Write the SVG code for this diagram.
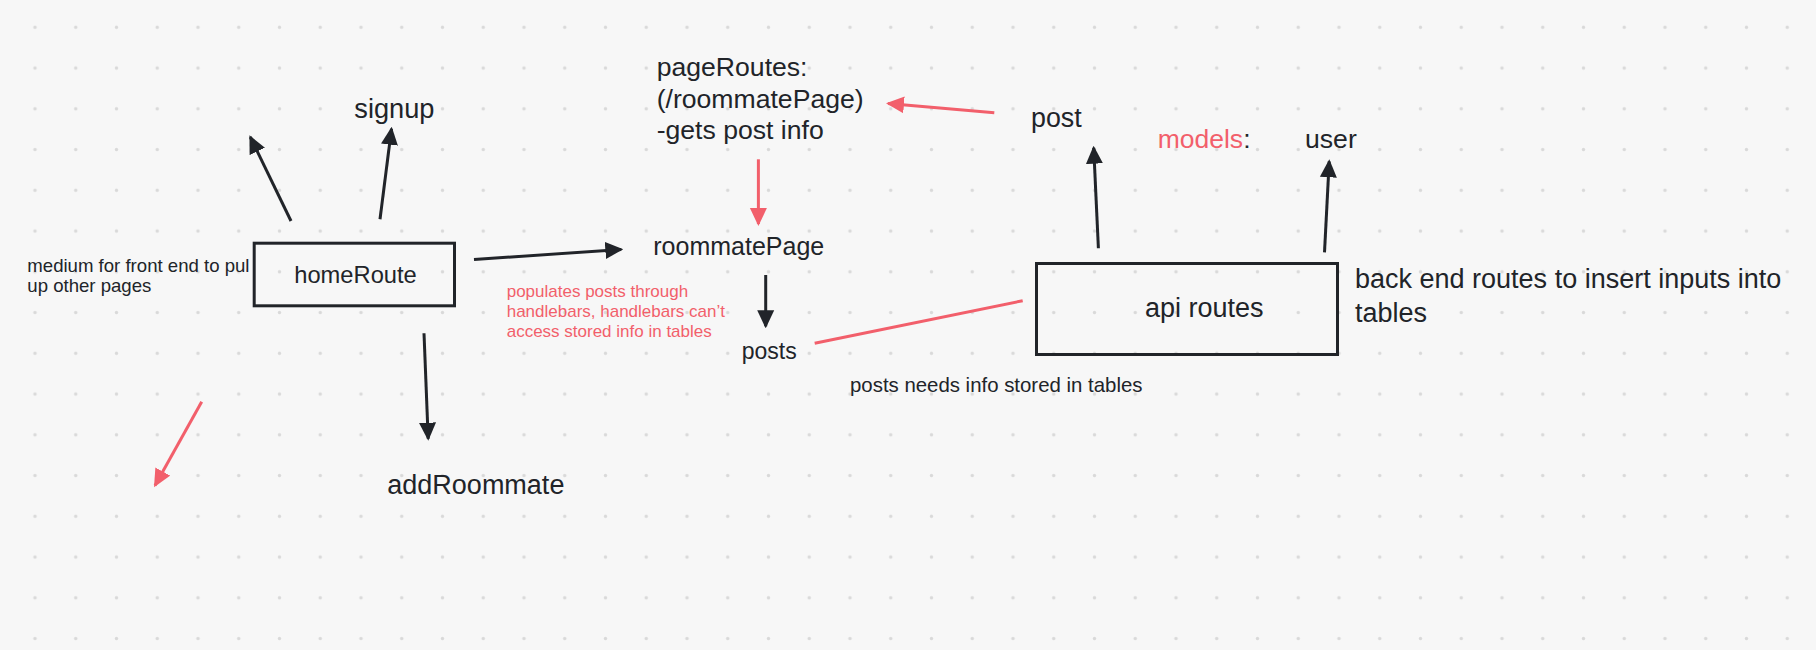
<svg xmlns="http://www.w3.org/2000/svg" width="1816" height="650" viewBox="0 0 1816 650">
<defs>
<style>
.t{font-family:"Liberation Sans",Arial,Helvetica,sans-serif;fill:#212429}
.r{font-family:"Liberation Sans",Arial,Helvetica,sans-serif;fill:#f25f6b}
.box{fill:none;stroke:#212429;stroke-width:3}
.ln{fill:none;stroke:#212429;stroke-width:3}
.lr{fill:none;stroke:#f25f6b;stroke-width:3}
</style>
<pattern id="dots" x="14.625" y="6.925" width="40.75" height="40.75" patternUnits="userSpaceOnUse">
<circle cx="20.375" cy="20.375" r="1.7" fill="#d9d9d9"/>
</pattern>
<marker id="ab" markerUnits="userSpaceOnUse" markerWidth="18" markerHeight="18" viewBox="0 0 18 18" refX="16" refY="9" orient="auto">
<path d="M0,0.5 L18,9 L0,17.5 z" fill="#212429"/>
</marker>
<marker id="ar" markerUnits="userSpaceOnUse" markerWidth="18" markerHeight="18" viewBox="0 0 18 18" refX="16" refY="9" orient="auto">
<path d="M0,0.5 L18,9 L0,17.5 z" fill="#f25f6b"/>
</marker>
</defs>
<rect width="1816" height="650" fill="#f7f7f7"/>
<rect width="1816" height="650" fill="url(#dots)"/>

<g id="connectors">
<line class="ln" x1="291" y1="221" x2="250.3" y2="137" marker-end="url(#ab)"/>
<line class="ln" x1="380" y1="219.3" x2="391.5" y2="128.7" marker-end="url(#ab)"/>
<line class="ln" x1="474" y1="259.5" x2="621.3" y2="249.4" marker-end="url(#ab)"/>
<line class="ln" x1="424" y1="333.3" x2="428.2" y2="438.7" marker-end="url(#ab)"/>
<line class="ln" x1="765.7" y1="275" x2="765.7" y2="326.3" marker-end="url(#ab)"/>
<line class="ln" x1="1098.4" y1="248.3" x2="1093.7" y2="147.7" marker-end="url(#ab)"/>
<line class="ln" x1="1324.5" y1="252.3" x2="1329.2" y2="161.3" marker-end="url(#ab)"/>
<line class="lr" x1="994.3" y1="112.7" x2="888" y2="103.5" marker-end="url(#ar)"/>
<line class="lr" x1="758.4" y1="159.3" x2="758.4" y2="224" marker-end="url(#ar)"/>
<line class="lr" x1="814.7" y1="343.3" x2="1022.7" y2="300.7"/>
<line class="lr" x1="201.7" y1="401.7" x2="155" y2="485.5" marker-end="url(#ar)"/>
</g>

<g id="homeRoute">
<rect class="box" x="254.2" y="243.2" width="200.3" height="62.6"/>
<text class="t" x="355.5" y="282.7" font-size="23.7" text-anchor="middle">homeRoute</text>
</g>
<g id="note-medium">
<text class="t" font-size="18.6"><tspan x="27.3" y="271.7">medium for front end to pul</tspan><tspan x="27.3" y="291.7">up other pages</tspan></text>
</g>
<g id="signup">
<text class="t" x="354.3" y="118.3" font-size="27.2">signup</text>
</g>
<g id="addRoommate">
<text class="t" x="387.3" y="494" font-size="27">addRoommate</text>
</g>
<g id="pageRoutes">
<text class="t" font-size="26.6"><tspan x="656.7" y="76">pageRoutes:</tspan><tspan x="656.7" y="107.5">(/roommatePage)</tspan><tspan x="656.7" y="139">-gets post info</tspan></text>
</g>
<g id="roommatePage">
<text class="t" x="653.3" y="255" font-size="25">roommatePage</text>
</g>
<g id="note-populates">
<text class="r" font-size="17"><tspan x="506.7" y="296.7">populates posts through</tspan><tspan x="506.7" y="316.7">handlebars, handlebars can’t</tspan><tspan x="506.7" y="336.7">access stored info in tables</tspan></text>
</g>
<g id="posts">
<text class="t" x="741.7" y="359" font-size="23">posts</text>
</g>
<g id="note-posts-needs">
<text class="t" x="850" y="391.7" font-size="20.4">posts needs info stored in tables</text>
</g>
<g id="post">
<text class="t" x="1031" y="126.7" font-size="26.8">post</text>
</g>
<g id="models">
<text class="t" x="1157.7" y="148.3" font-size="26.5"><tspan class="r">models</tspan>:</text>
</g>
<g id="user">
<text class="t" x="1305" y="148.3" font-size="26.6">user</text>
</g>
<g id="apiRoutes">
<rect class="box" x="1036.5" y="263.5" width="301" height="91"/>
<text class="t" x="1145" y="316.7" font-size="27">api routes</text>
</g>
<g id="note-backend">
<text class="t" font-size="27"><tspan x="1355" y="288.3">back end routes to insert inputs into</tspan><tspan x="1355" y="321.7">tables</tspan></text>
</g>
</svg>
